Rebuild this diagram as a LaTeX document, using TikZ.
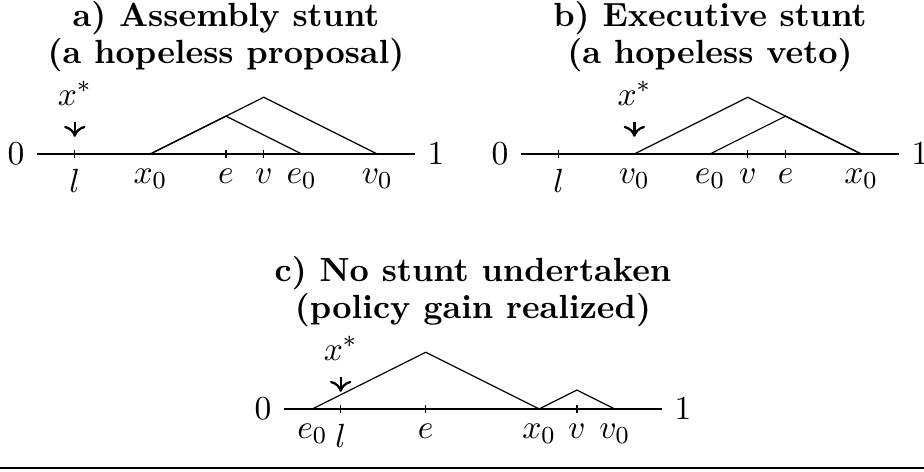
\documentclass[tikz,border=0pt,11pt]{standalone}
\usepackage{amsmath}
\usetikzlibrary{arrows.meta, positioning}

\begin{document}
\begin{tikzpicture}[
    panel/.style={x=4.343cm, y=4.343cm},
    tent/.style={line width=0.4pt},
    tickmark/.style={line width=0.4pt},
    lab/.style={below=1.0pt},
    title/.style={anchor=south, align=center, font=\bfseries},
    pointer/.style={-{Computer Modern Rightarrow[length=3.6pt, width=7pt]}, line width=0.75pt, shorten <=1.6pt}
]
    \useasboundingbox (0,0) rectangle (10.617,-5.412);

    % a) assembly stunt
    \begin{scope}[panel, shift={(0.425cm,-1.769cm)}]
        \draw (0,0) coordinate (a0) -- (1,0) coordinate (a1);
        \node[left=0.3pt of a0] (azero) {$0$};
        \node[right=0.3pt of a1] (aone) {$1$};
        \foreach \t in {0.1,0.5,0.6}
            \draw[tickmark] (\t,-1.3pt) -- (\t,1.3pt);
        \draw[tent] (0.3,0) -- (0.6,0.15) -- (0.9,0);
        \draw[tent] (0.3,0) -- (0.5,0.1) -- (0.7,0);
        \node[lab] (al) at (0.1,0) {$l$};
        \node[lab] (ax) at (0.3,0) {$x_0$};
        \node[lab] (ae) at (0.5,0) {$e$};
        \node[lab] (av) at (0.6,0) {$v$};
        \node[lab] (ae0) at (0.7,0) {$e_0$};
        \node[lab] (av0) at (0.9,0) {$v_0$};
        \node[anchor=base] (axs) at (0.1,16pt) {$x^*$};
        \coordinate (atip) at (0.1,5.6pt);
        \draw[pointer] (axs) -- (atip);
        \node[title] (atitle) at (0.5,23.1pt) {a) Assembly stunt\\[-1.5pt](a hopeless proposal)};
    \end{scope}

    % b) executive stunt
    \begin{scope}[panel, shift={(5.986cm,-1.769cm)}]
        \draw (0,0) coordinate (b0) -- (1,0) coordinate (b1);
        \node[left=0.3pt of b0] (bzero) {$0$};
        \node[right=0.3pt of b1] (bone) {$1$};
        \foreach \t in {0.1,0.6,0.7}
            \draw[tickmark] (\t,-1.3pt) -- (\t,1.3pt);
        \draw[tent] (0.3,0) -- (0.6,0.15) -- (0.9,0);
        \draw[tent] (0.5,0) -- (0.7,0.1) -- (0.9,0);
        \node[lab] (bl) at (0.1,0) {$l$};
        \node[lab] (bv0) at (0.3,0) {$v_0$};
        \node[lab] (be0) at (0.5,0) {$e_0$};
        \node[lab] (bv) at (0.6,0) {$v$};
        \node[lab] (be) at (0.7,0) {$e$};
        \node[lab] (bx) at (0.9,0) {$x_0$};
        \node[anchor=base] (bxs) at (0.3,16pt) {$x^*$};
        \coordinate (btip) at (0.3,5.6pt);
        \draw[pointer] (bxs) -- (btip);
        \node[title] (btitle) at (0.5,23.1pt) {b) Executive stunt\\[-1.5pt](a hopeless veto)};
    \end{scope}

    % c) no stunt
    \begin{scope}[panel, shift={(3.263cm,-4.699cm)}]
        \draw (0,0) coordinate (c0) -- (1,0) coordinate (c1);
        \node[left=0.3pt of c0] (czero) {$0$};
        \node[right=0.3pt of c1] (cone) {$1$};
        \foreach \t in {0.15,0.375,0.775}
            \draw[tickmark] (\t,-1.3pt) -- (\t,1.3pt);
        \draw[tent] (0.075,0) -- (0.375,0.15) -- (0.675,0);
        \draw[tent] (0.675,0) -- (0.775,0.05) -- (0.875,0);
        \node[lab] (ce0) at (0.075,0) {$e_0$};
        \node[lab] (cl) at (0.15,0) {$l$};
        \node[lab] (ce) at (0.375,0) {$e$};
        \node[lab] (cx) at (0.675,0) {$x_0$};
        \node[lab] (cv) at (0.775,0) {$v$};
        \node[lab] (cv0) at (0.875,0) {$v_0$};
        \node[anchor=base] (cxs) at (0.15,16pt) {$x^*$};
        \coordinate (ctip) at (0.15,5.6pt);
        \draw[pointer] (cxs) -- (ctip);
        \node[title] (ctitle) at (0.5,23.1pt) {c) No stunt undertaken\\[-1.5pt](policy gain realized)};
    \end{scope}

    \draw[line width=0.65pt] (0,-5.377) -- (10.617,-5.377);
\end{tikzpicture}
\end{document}
